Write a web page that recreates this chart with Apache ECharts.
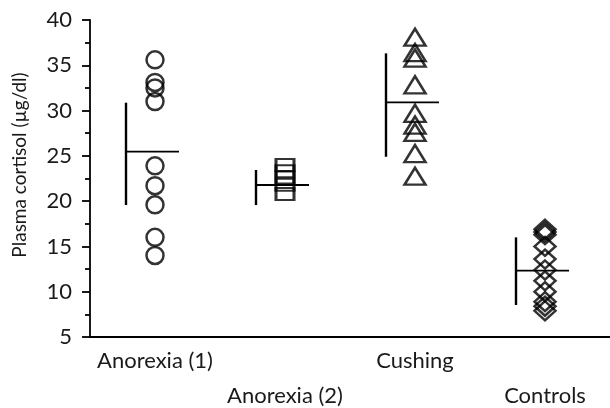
<!DOCTYPE html>
<html>
<head>
<meta charset="utf-8">
<script src="https://cdn.jsdelivr.net/npm/echarts@6/dist/echarts.min.js"></script>
<style>html,body{margin:0;padding:0;background:#fff}#c{width:610px;height:408px}</style>
</head>
<body>
<div id="c"></div>
<script>
var categories = ['Anorexia (1)', 'Anorexia (2)', 'Cushing', 'Controls'];
var anorexia1 = [35.6, 33.1, 32.5, 31.0, 23.9, 21.7, 19.6, 16.0, 14.0];
var anorexia2 = [24.0, 23.3, 22.6, 21.8, 20.8];
var cushing = [38.1, 36.4, 35.8, 32.85, 29.7, 28.4, 27.6, 25.25, 22.75];
var controls = [16.9, 16.6, 16.3, 15.0, 13.6, 12.4, 11.2, 10.0, 8.9, 8.4, 7.9];
var means = [25.46, 21.78, 30.91, 12.32];
var sdLow = [19.57, 19.57, 24.9, 8.53];
var sdHigh = [30.87, 23.44, 36.32, 16.0];
var yTicks = [5, 10, 15, 20, 25, 30, 35, 40];

var FONT = 'Lato';
function pts(idx, arr) { return arr.map(function (v) { return [idx, v]; }); }
var markerStyle = { color: 'rgba(0,0,0,0)', borderColor: '#000', borderWidth: 2.5 };

var chart = echarts.init(document.getElementById('c'));
chart.setOption({
  animation: false,
  backgroundColor: '#fff',
  grid: { left: 90, top: 20, right: 0, bottom: 71, containLabel: false, outerBoundsMode: 'none' },
  xAxis: {
    type: 'category',
    data: categories,
    boundaryGap: true,
    axisLine: { lineStyle: { color: '#000', width: 1.8 } },
    axisTick: { alignWithLabel: true, length: 6, lineStyle: { color: '#000', width: 1.8 } },
    axisLabel: {
      interval: 0,
      margin: 6,
      color: '#1a1a1a',
      fontFamily: FONT,
      fontSize: 22,
      lineHeight: 35,
      formatter: function (v, i) { return (i % 2 === 1 ? '\n' : '') + v; }
    }
  },
  yAxis: {
    type: 'value',
    min: yTicks[0],
    max: yTicks[yTicks.length - 1],
    interval: 5,
    splitLine: { show: false },
    axisLine: { show: true, lineStyle: { color: '#000', width: 1.8 } },
    axisTick: { show: true, length: 8, lineStyle: { color: '#000', width: 1.8 } },
    minorTick: { show: true, splitNumber: 2, length: 5, lineStyle: { color: '#000', width: 1.8 } },
    axisLabel: { margin: 18, color: '#1a1a1a', fontFamily: FONT, fontSize: 22 }
  },
  graphic: [{
    type: 'text',
    x: 20, y: 165,
    rotation: Math.PI / 2,
    style: {
      text: 'Plasma cortisol (µg/dl)',
      fontFamily: FONT, fontSize: 19, fill: '#1a1a1a',
      align: 'center', verticalAlign: 'middle'
    }
  }],
  series: [
    { type: 'scatter', symbol: 'circle', symbolSize: 17, itemStyle: markerStyle, data: pts(0, anorexia1) },
    { type: 'scatter', symbol: 'rect', symbolSize: [18, 12], itemStyle: markerStyle, data: pts(1, anorexia2) },
    { type: 'scatter', symbol: 'triangle', symbolSize: [21, 17], itemStyle: markerStyle, data: pts(2, cushing) },
    { type: 'scatter', symbol: 'diamond', symbolSize: [21, 19], itemStyle: markerStyle, data: pts(3, controls) },
    {
      type: 'custom',
      data: means.map(function (m, i) { return [i, m, sdLow[i], sdHigh[i]]; }),
      renderItem: function (params, api) {
        var c = api.coord([api.value(0), api.value(1)]);
        var lo = api.coord([api.value(0), api.value(2)]);
        var hi = api.coord([api.value(0), api.value(3)]);
        var xv = c[0] - 29;
        return {
          type: 'group',
          children: [
            { type: 'line', shape: { x1: xv, y1: hi[1], x2: xv, y2: lo[1] }, style: { stroke: '#000', lineWidth: 2.4 } },
            { type: 'line', shape: { x1: xv, y1: c[1], x2: c[0] + 24, y2: c[1] }, style: { stroke: '#000', lineWidth: 1.8 } }
          ]
        };
      },
      z: 3
    }
  ]
});
</script>
</body>
</html>
